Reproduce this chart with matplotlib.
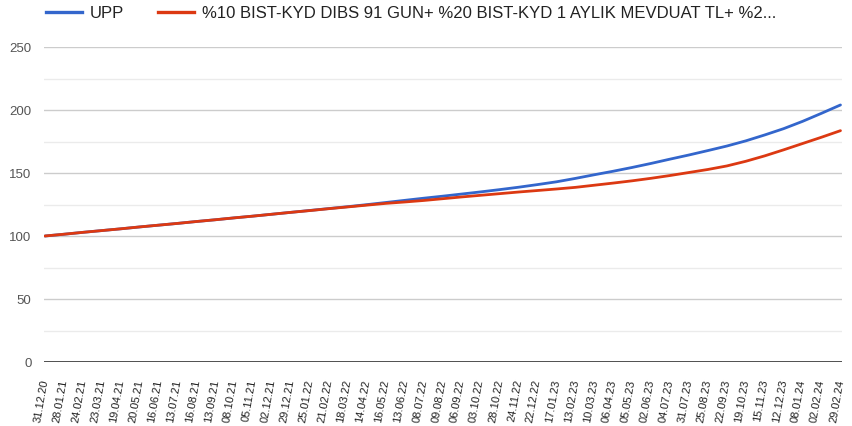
import matplotlib
matplotlib.use("Agg")
import matplotlib.pyplot as plt
from matplotlib.lines import Line2D
from matplotlib.ticker import MultipleLocator

plt.rcParams['font.family'] = ['Liberation Sans', 'DejaVu Sans']

dates = ["31.12.20", "28.01.21", "24.02.21", "23.03.21", "19.04.21", "20.05.21",
         "16.06.21", "13.07.21", "16.08.21", "13.09.21", "08.10.21", "05.11.21",
         "02.12.21", "29.12.21", "25.01.22", "21.02.22", "18.03.22", "14.04.22",
         "16.05.22", "13.06.22", "08.07.22", "09.08.22", "06.09.22", "03.10.22",
         "28.10.22", "24.11.22", "22.12.22", "17.01.23", "13.02.23", "10.03.23",
         "06.04.23", "05.05.23", "02.06.23", "04.07.23", "31.07.23", "25.08.23",
         "22.09.23", "19.10.23", "15.11.23", "12.12.23", "08.01.24", "02.02.24",
         "29.02.24"]

upp = [100.0, 101.4, 102.9, 104.3, 105.7, 107.2, 108.6, 110.0, 111.5, 112.9,
       114.4, 115.8, 117.3, 118.8, 120.3, 121.8, 123.3, 124.9, 126.6, 128.3,
       130.0, 131.6, 133.3, 135.0, 136.8, 138.7, 140.8, 143.0, 145.7, 148.6,
       151.4, 154.4, 157.6, 161.0, 164.3, 167.8, 171.4, 175.5, 180.2, 185.2,
       191.0, 197.4, 204.0]

benchmark = [100.0, 101.4, 102.9, 104.3, 105.7, 107.2, 108.6, 110.0, 111.5, 112.9,
             114.4, 115.8, 117.3, 118.8, 120.2, 121.7, 123.1, 124.5, 125.9, 127.0,
             128.2, 129.6, 131.0, 132.3, 133.6, 134.9, 136.1, 137.3, 138.6, 140.3,
             142.0, 143.8, 145.8, 148.0, 150.4, 152.8, 155.6, 159.3, 163.6, 168.4,
             173.4, 178.4, 183.6]

series_names = ["UPP",
                "%10 BIST-KYD DIBS 91 GUN+ %20 BIST-KYD 1 AYLIK MEVDUAT TL+ %2..."]
colors = ["#3366cc", "#dc3912"]

W, H = 852, 427
fig = plt.figure(figsize=(W / 100, H / 100), dpi=100)
ax = fig.add_axes([44 / W, 1 - 363 / H, (842 - 44) / W, (363 - 48) / H])

x = list(range(len(dates)))
ax.plot(x, upp, color=colors[0], lw=2.0, solid_capstyle='round', zorder=3)
ax.plot(x, benchmark, color=colors[1], lw=2.0, solid_capstyle='round', zorder=4)

ax.set_xlim(-0.05, len(dates) - 1 + 0.08)
ax.set_ylim(0, 250)
ax.yaxis.set_major_locator(MultipleLocator(50))
ax.yaxis.set_minor_locator(MultipleLocator(25))
ax.grid(which='major', axis='y', color='#cccccc', lw=1)
ax.grid(which='minor', axis='y', color='#ebebeb', lw=1)
ax.set_axisbelow(True)
for s in ax.spines.values():
    s.set_visible(False)
ax.axhline(0, color='#333333', lw=1.2, zorder=2)

ax.set_xticks(x)
ax.set_xticklabels(dates, fontsize=8, color='#222222')
plt.setp(ax.get_xticklabels(), rotation=80, ha='right', va='center',
         rotation_mode='anchor')
ax.tick_params(axis='x', length=0, pad=12)
ax.tick_params(axis='y', which='both', length=0, pad=9, labelsize=9.5,
               labelcolor='#555555')

# legend
ly = 1 - 13 / H
fig.add_artist(Line2D([46 / W, 82 / W], [ly, ly], color=colors[0], lw=2.4,
                      transform=fig.transFigure))
fig.text(90 / W, ly, series_names[0], fontsize=12, color='#222222',
         va='center', ha='left')
fig.add_artist(Line2D([158 / W, 194 / W], [ly, ly], color=colors[1], lw=2.4,
                      transform=fig.transFigure))
fig.text(202 / W, ly, series_names[1], fontsize=12, color='#222222',
         va='center', ha='left')

fig.savefig("out.png", dpi=100)
